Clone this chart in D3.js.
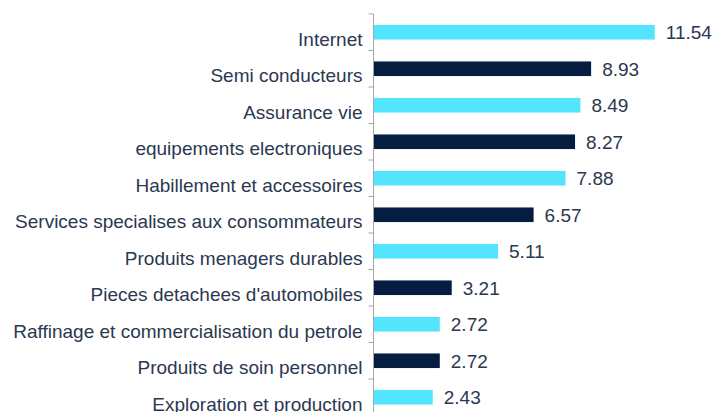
<!DOCTYPE html>
<html>
<head>
<meta charset="utf-8">
<script src="https://cdn.jsdelivr.net/npm/d3@7"></script>
<style>
  body { margin: 0; background: #fff; }
  text { font-family: 'Liberation Sans', Arial, sans-serif; }
</style>
</head>
<body>
<div id="chart"></div>
<script>
const categories = [
  'Internet',
  'Semi conducteurs',
  'Assurance vie',
  'equipements electroniques',
  'Habillement et accessoires',
  'Services specialises aux consommateurs',
  'Produits menagers durables',
  "Pieces detachees d'automobiles",
  'Raffinage et commercialisation du petrole',
  'Produits de soin personnel',
  'Exploration et production'
]
const values = [11.54, 8.93, 8.49, 8.27, 7.88, 6.57, 5.11, 3.21, 2.72, 2.72, 2.43]
const labels = ['11.54', '8.93', '8.49', '8.27', '7.88', '6.57', '5.11', '3.21', '2.72', '2.72', '2.43']

const width = 715
const height = 412
const axisX = 373.5
const topY = 14
const step = 36.5

const colors = ['#52e5fd', '#041d40']
const textColor = '#2b3850'

const svg = d3.select('#chart')
  .append('svg')
  .attr('width', width)
  .attr('height', height)

// scales
const xs = d3.scaleLinear()
  .domain([0, 13.5])
  .range([axisX, axisX + 329])
const ys = d3.scaleBand()
  .domain(categories)
  .range([topY, topY + step * categories.length])
  .paddingInner(0.6)
  .paddingOuter(0.3)

const data = categories.map((c, i) => ({ c, v: values[i], label: labels[i], i }))

// bars
svg.selectAll('.bar')
  .data(data)
  .enter()
  .append('rect')
  .attr('x', xs(0))
  .attr('y', (d) => ys(d.c))
  .attr('width', (d) => xs(d.v) - xs(0))
  .attr('height', ys.bandwidth())
  .attr('fill', (d) => colors[d.i % 2])

// value labels
svg.selectAll('.val')
  .data(data)
  .enter()
  .append('text')
  .attr('x', (d) => xs(d.v) + 11)
  .attr('y', (d) => ys(d.c) + ys.bandwidth() / 2 + 7)
  .attr('fill', textColor)
  .style('font-size', '19px')
  .text((d) => d.label)

// category labels
svg.selectAll('.cat')
  .data(data)
  .enter()
  .append('text')
  .attr('x', axisX - 11)
  .attr('y', (d) => ys(d.c) + ys.bandwidth() / 2 + 13.5)
  .attr('text-anchor', 'end')
  .attr('fill', textColor)
  .style('font-size', '19px')
  .text((d) => d.c)

// axis line with ticks at band boundaries
const gap = (ys.step() - ys.bandwidth()) / 2
const bounds = categories.map((c) => ys(c) - gap)
bounds.push(ys(categories[categories.length - 1]) + ys.bandwidth() + gap)
svg.append('line')
  .attr('x1', axisX).attr('x2', axisX)
  .attr('y1', bounds[0]).attr('y2', height)
  .attr('stroke', '#a6a6a6')
  .attr('stroke-width', 1)
svg.selectAll('.tick')
  .data(bounds)
  .enter()
  .append('line')
  .attr('x1', axisX - 5).attr('x2', axisX)
  .attr('y1', (d) => d).attr('y2', (d) => d)
  .attr('stroke', '#a6a6a6')
  .attr('stroke-width', 1)
</script>
</body>
</html>
